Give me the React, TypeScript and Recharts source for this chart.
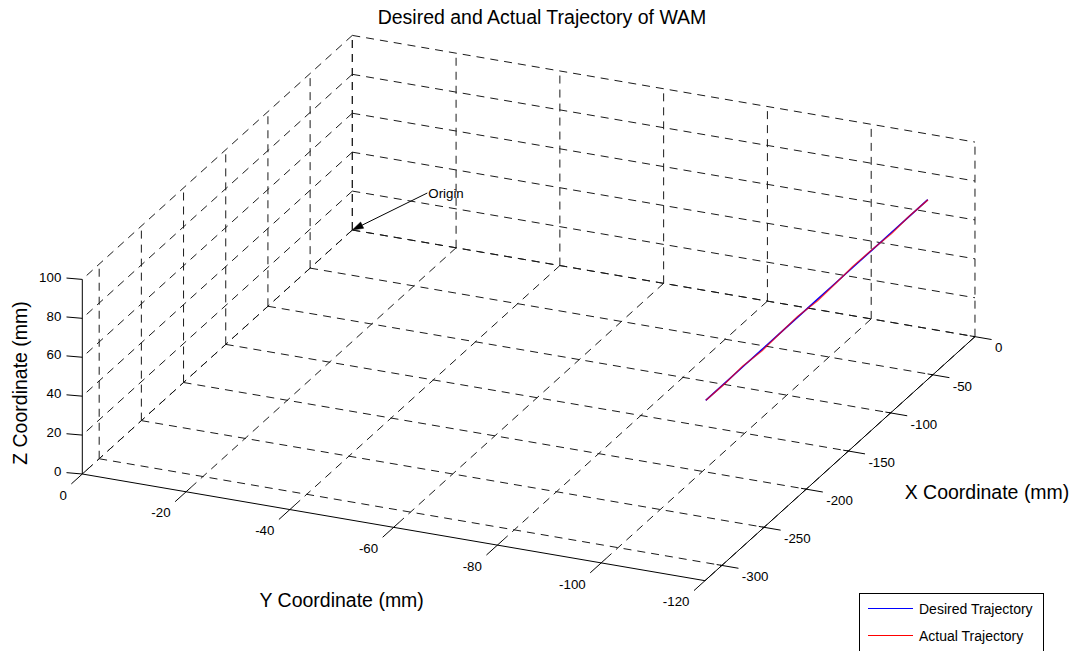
import * as React from 'react';
import { ComposedChart, XAxis, YAxis, Scatter, ReferenceLine, ReferenceDot, Legend } from 'recharts';

// axis limits and ticks (mm)
const xLimits = [-320, 0];
const yLimits = [-120, 0];
const zLimits = [0, 100];
const xTicks = [0, -50, -100, -150, -200, -250, -300];
const yTicks = [0, -20, -40, -60, -80, -100, -120];
const zTicks = [0, 20, 40, 60, 80, 100];

// WAM end effector path (mm)
const desiredX = [-25.2, -47.1, -69.0, -91.0, -112.9, -134.8, -156.7, -178.6, -200.6, -222.5, -244.4, -266.4, -288.4];
const desiredY = [-115.0, -115.0, -115.0, -115.0, -115.0, -115.0, -115.0, -115.0, -115.0, -115.0, -115.0, -115.0, -115.0];
const desiredZ = [78.0, 78.0, 78.0, 78.0, 78.0, 78.0, 78.0, 78.0, 78.0, 78.0, 78.0, 78.0, 78.0];

const actualX = [-25.6, -47.4, -69.3, -90.8, -113.2, -134.5, -157.0, -178.9, -200.3, -222.8, -244.1, -266.7, -288.1];
const actualY = [-115.1, -114.9, -115.2, -115.0, -114.8, -115.1, -115.2, -114.9, -115.0, -115.2, -114.9, -115.1, -115.0];
const actualZ = [78.1, 77.9, 78.0, 78.2, 77.9, 78.0, 77.8, 78.1, 78.0, 77.9, 78.1, 78.0, 77.9];

const seriesNames = ['Desired Trajectory', 'Actual Trajectory'];
const seriesColors = ['#0000ff', '#ff0000'];

const W = 1083;
const H = 651;
const FONT = '"Liberation Sans", Arial, Helvetica, sans-serif';

type P3 = [number, number, number];

// 3-D view: screen position of (0,0,0) and pixel step per unit along each axis
const VIEW_ORIGIN = [352.3, 230];
const X_STEP = [0.84375, -0.7625];
const Y_STEP = [-5.189, -0.889];
const Z_STEP = [0, -1.946];

const project = ([x, y, z]: P3) => ({
  sx: VIEW_ORIGIN[0] + x * X_STEP[0] + y * Y_STEP[0] + z * Z_STEP[0],
  sy: VIEW_ORIGIN[1] + x * X_STEP[1] + y * Y_STEP[1] + z * Z_STEP[1],
});

const [xMin, xMax] = xLimits;
const [yMin, yMax] = yLimits;
const [zMin, zMax] = zLimits;

const gridSegments: [P3, P3][] = [
  // floor
  ...xTicks.map((x): [P3, P3] => [[x, yMax, zMin], [x, yMin, zMin]]),
  ...yTicks.map((y): [P3, P3] => [[xMax, y, zMin], [xMin, y, zMin]]),
  // back wall x = 0
  ...yTicks.map((y): [P3, P3] => [[xMax, y, zMin], [xMax, y, zMax]]),
  ...zTicks.map((z): [P3, P3] => [[xMax, yMax, z], [xMax, yMin, z]]),
  // back wall y = 0
  ...xTicks.map((x): [P3, P3] => [[x, yMax, zMin], [x, yMax, zMax]]),
  ...zTicks.map((z): [P3, P3] => [[xMax, yMax, z], [xMin, yMax, z]]),
];

const axisSegments: [P3, P3][] = [
  [[xMax, yMin, zMin], [xMin, yMin, zMin]],
  [[xMin, yMax, zMin], [xMin, yMin, zMin]],
  [[xMin, yMax, zMin], [xMin, yMax, zMax]],
  ...xTicks.map((x): [P3, P3] => [[x, yMin + 1, zMin], [x, yMin - 3.2, zMin]]),
  ...yTicks.map((y): [P3, P3] => [[xMin + 5.5, y, zMin], [xMin - 13, y, zMin]]),
  ...zTicks.map((z): [P3, P3] => [[xMin, yMax, z], [xMin - 1.5, yMax + 2.8, z]]),
];

const toSegment = (s: [P3, P3]) => s.map(project).map((p) => ({ x: p.sx, y: p.sy }));

const xLabels = xTicks.map((x) => ({ ...project([x, yMin, zMin]), text: String(x) }));
const yLabels = yTicks.map((y) => ({ ...project([xMin, y, zMin]), text: String(y) }));
const zLabels = zTicks.map((z) => ({ ...project([xMin, yMax, z]), text: String(z) }));

const desiredPts = desiredX.map((x, i) => project([x, desiredY[i], desiredZ[i]]));
const actualPts = actualX.map((x, i) => project([x, actualY[i], actualZ[i]]));
const origin = project([0, 0, 0]);

const tickText = (dx: number, dy: number, anchor: 'start' | 'end') => (props: any) => (
  <text
    x={props.cx + dx}
    y={props.cy + dy + 4.7}
    textAnchor={anchor}
    fontFamily={FONT}
    fontSize={13.3}
    fill="#000"
  >
    {props.payload.text}
  </text>
);

const OriginMarker = (props: any) => {
  const { cx, cy } = props;
  const tx = cx + 75;
  const ty = cy - 37;
  const len = Math.hypot(tx - cx, ty - cy);
  const ux = (tx - cx) / len;
  const uy = (ty - cy) / len;
  const bx = cx + ux * 11;
  const by = cy + uy * 11;
  const head = `${cx},${cy} ${bx - uy * 3.5},${by + ux * 3.5} ${bx + uy * 3.5},${by - ux * 3.5}`;
  return (
    <g>
      <line x1={tx} y1={ty} x2={bx} y2={by} stroke="#000" strokeWidth={1} />
      <polygon points={head} fill="#000" stroke="#000" strokeWidth={0.5} />
      <text x={tx + 1} y={ty + 4.7} fontFamily={FONT} fontSize={13.3} fill="#000">
        Origin
      </text>
    </g>
  );
};

const renderLegend = (props: any) => {
  const items = (props.payload || [])
    .filter((p: any) => seriesNames.includes(p.value))
    .sort((a: any, b: any) => seriesNames.indexOf(a.value) - seriesNames.indexOf(b.value));
  return (
    <div
      style={{
        width: 185,
        height: 62,
        border: '1px solid #000',
        boxSizing: 'border-box',
        background: '#fff',
        paddingTop: 1,
        fontFamily: FONT,
        fontSize: 14,
        color: '#000',
      }}
    >
      {items.map((p: any) => (
        <div key={p.value} style={{ display: 'flex', alignItems: 'center', height: 27 }}>
          <span
            style={{
              width: 45,
              borderTop: `1px solid ${seriesColors[seriesNames.indexOf(p.value)]}`,
              marginLeft: 8,
              marginRight: 6,
            }}
          />
          <span>{p.value}</span>
        </div>
      ))}
    </div>
  );
};

const hidden = () => <g />;

export default function App() {
  return (
    <div style={{ position: 'absolute', left: 0, top: 0, width: W, height: H, overflow: 'hidden', background: '#fff' }}>
      <ComposedChart width={W} height={H} margin={{ top: 0, right: 0, bottom: 0, left: 0 }}>
        <XAxis type="number" dataKey="sx" domain={[0, W]} hide allowDataOverflow />
        <YAxis type="number" dataKey="sy" domain={[0, H]} reversed hide allowDataOverflow />

        {gridSegments.map((s, i) => (
          <ReferenceLine
            key={`grid-${i}`}
            segment={toSegment(s)}
            stroke="#1a1a1a"
            strokeWidth={1}
            strokeDasharray="8 6"
            ifOverflow="visible"
          />
        ))}
        {axisSegments.map((s, i) => (
          <ReferenceLine key={`axis-${i}`} segment={toSegment(s)} stroke="#000" strokeWidth={1} ifOverflow="visible" />
        ))}

        <Scatter
          name={seriesNames[0]}
          data={desiredPts}
          fill={seriesColors[0]}
          line={{ stroke: seriesColors[0], strokeWidth: 1.5 }}
          shape={hidden}
          legendType="line"
          isAnimationActive={false}
        />
        <Scatter
          name={seriesNames[1]}
          data={actualPts}
          fill={seriesColors[1]}
          line={{ stroke: seriesColors[1], strokeWidth: 1.4, strokeOpacity: 0.72 }}
          shape={hidden}
          legendType="line"
          isAnimationActive={false}
        />

        <Scatter data={xLabels} shape={tickText(20, 11, 'start')} legendType="none" isAnimationActive={false} />
        <Scatter data={yLabels} shape={tickText(-15.5, 21, 'end')} legendType="none" isAnimationActive={false} />
        <Scatter data={zLabels} shape={tickText(-21, -2.5, 'end')} legendType="none" isAnimationActive={false} />

        <ReferenceDot x={origin.sx} y={origin.sy} r={0} shape={OriginMarker} ifOverflow="visible" />

        <text x={542} y={24} textAnchor="middle" fontFamily={FONT} fontSize={19.5} fill="#000">
          Desired and Actual Trajectory of WAM
        </text>
        <text x={987} y={499} textAnchor="middle" fontFamily={FONT} fontSize={19.5} fill="#000">
          X Coordinate (mm)
        </text>
        <text x={341.7} y={606.7} textAnchor="middle" fontFamily={FONT} fontSize={19.5} fill="#000">
          Y Coordinate (mm)
        </text>
        <text
          x={0}
          y={0}
          transform="translate(27, 383) rotate(-90)"
          textAnchor="middle"
          fontFamily={FONT}
          fontSize={19.5}
          fill="#000"
        >
          Z Coordinate (mm)
        </text>

        <Legend
          layout="vertical"
          align="center"
          verticalAlign="middle"
          wrapperStyle={{ left: 859, top: 593, width: 185, height: 62 }}
          content={renderLegend}
        />
      </ComposedChart>
    </div>
  );
}
